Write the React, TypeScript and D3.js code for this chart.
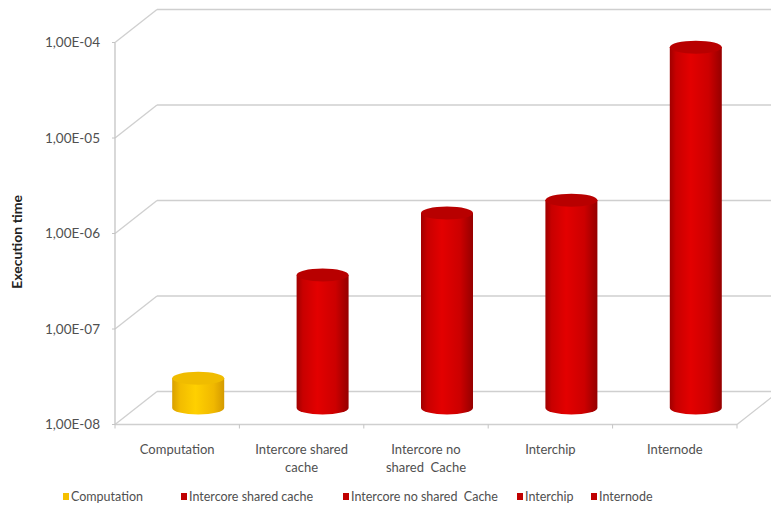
import React from "react";
import * as d3 from "d3";

const categories = ["Computation", "Intercore shared cache", "Intercore no shared  Cache", "Interchip", "Internode"];
const labelLines = [["Computation"], ["Intercore shared", "cache"], ["Intercore no", "shared  Cache"], ["Interchip"], ["Internode"]];
const values = [2.05e-8, 2.47e-7, 1.1e-6, 1.5e-6, 6.0e-5];
const seriesColors = ["yellow", "red", "red", "red", "red"];
const yTicks = [1e-8, 1e-7, 1e-6, 1e-5, 1e-4];
const yTickLabels = ["1,00E-08", "1,00E-07", "1,00E-06", "1,00E-05", "1,00E-04"];
const legendX = [63, 181, 343, 517, 591];

export default function App() {
  const W = 771, H = 512;
  const x0 = 115, x1 = 737;
  const dx = 42, dy = -33;
  const y = d3.scaleLog().domain([1e-8, 1e-4]).range([424.5, 42.5]);
  const xb = d3.scaleBand<string>().domain(categories).range([x0, x1]);
  const grid = "#cfcfcf";
  const font = "Lato, 'Open Sans', sans-serif";
  const txt = "#505050";
  const cw = 52, ry = 6.5;

  return (
    <svg width={W} height={H} style={{ position: "absolute", left: 0, top: 0, background: "#fff" }}>
      <defs>
        <linearGradient id="gRed" x1="0" x2="1" y1="0" y2="0">
          <stop offset="0" stopColor="#a00000" />
          <stop offset="0.12" stopColor="#c80000" />
          <stop offset="0.4" stopColor="#e30000" />
          <stop offset="0.75" stopColor="#cc0000" />
          <stop offset="1" stopColor="#950000" />
        </linearGradient>
        <linearGradient id="gYel" x1="0" x2="1" y1="0" y2="0">
          <stop offset="0" stopColor="#d9a000" />
          <stop offset="0.15" stopColor="#f2bc00" />
          <stop offset="0.45" stopColor="#ffd000" />
          <stop offset="0.8" stopColor="#f0b800" />
          <stop offset="1" stopColor="#d49a00" />
        </linearGradient>
      </defs>
      {yTicks.map((t, i) => {
        const yy = y(t);
        return (
          <g key={i}>
            <line x1={x0} y1={yy} x2={x0 + dx} y2={yy + dy} stroke={grid} strokeWidth={1.3} />
            <line x1={x0 + dx} y1={yy + dy} x2={W + 20} y2={yy + dy} stroke={grid} strokeWidth={1.3} />
          </g>
        );
      })}
      <line x1={x0} y1={y(1e-8)} x2={x1} y2={y(1e-8)} stroke={grid} strokeWidth={1.3} />
      <line x1={x1} y1={y(1e-8)} x2={x1 + dx} y2={y(1e-8) + dy} stroke={grid} strokeWidth={1.3} />
      <line x1={x0} y1={y(1e-4)} x2={x0} y2={y(1e-8)} stroke="#c4c4c4" strokeWidth={1.3} />
      {yTicks.map((t, i) => (
        <line key={"tk" + i} x1={x0 - 3} y1={y(t)} x2={x0} y2={y(t)} stroke="#c4c4c4" />
      ))}
      {d3.range(categories.length + 1).map((i) => {
        const xx = x0 + i * xb.bandwidth();
        return <line key={"xt" + i} x1={xx} y1={y(1e-8)} x2={xx} y2={y(1e-8) + 4} stroke="#c4c4c4" />;
      })}
      {yTicks.map((t, i) => (
        <text key={"yl" + i} x={100} y={y(t)} dy="0.35em" textAnchor="end" fontFamily={font} fontSize={13.5} fill={txt}>
          {yTickLabels[i]}
        </text>
      ))}
      <text transform={`translate(22,242) rotate(-90)`} textAnchor="middle" fontFamily={font} fontSize={14} fontWeight="bold" fill="#222">
        Execution time
      </text>
      {categories.map((c, i) => {
        const cx = (xb(c) as number) + xb.bandwidth() / 2 + dx / 2;
        const yBot = y(1e-8) + dy / 2;
        const yTop = y(values[i]) + dy / 2;
        const fill = seriesColors[i] === "red" ? "url(#gRed)" : "url(#gYel)";
        const topFill = seriesColors[i] === "red" ? "#b80000" : "#f0bc00";
        const l = cx - cw / 2, r = cx + cw / 2;
        const body = `M${l},${yTop} L${l},${yBot} A${cw / 2},${ry} 0 0 0 ${r},${yBot} L${r},${yTop} Z`;
        return (
          <g key={"b" + i}>
            <path d={body} fill={fill} />
            <ellipse cx={cx} cy={yTop} rx={cw / 2} ry={ry} fill={topFill} />
          </g>
        );
      })}
      {categories.map((c, i) => {
        const cx = (xb(c) as number) + xb.bandwidth() / 2;
        return (
          <text key={"xl" + i} x={cx} y={454} textAnchor="middle" fontFamily={font} fontSize={13} fill={txt} style={{ whiteSpace: "pre" }}>
            {labelLines[i].map((ln, j) => (
              <tspan key={j} x={cx} dy={j === 0 ? 0 : 18}>{ln}</tspan>
            ))}
          </text>
        );
      })}
      {categories.map((c, i) => (
        <g key={"lg" + i}>
          <rect x={legendX[i]} y={493} width={6} height={7} fill={seriesColors[i] === "red" ? "#c00000" : "#f5c000"} />
          <text x={legendX[i] + 8} y={497} dy="0.35em" fontFamily={font} fontSize={12.5} fill={txt} style={{ whiteSpace: "pre" }}>{c}</text>
        </g>
      ))}
    </svg>
  );
}
